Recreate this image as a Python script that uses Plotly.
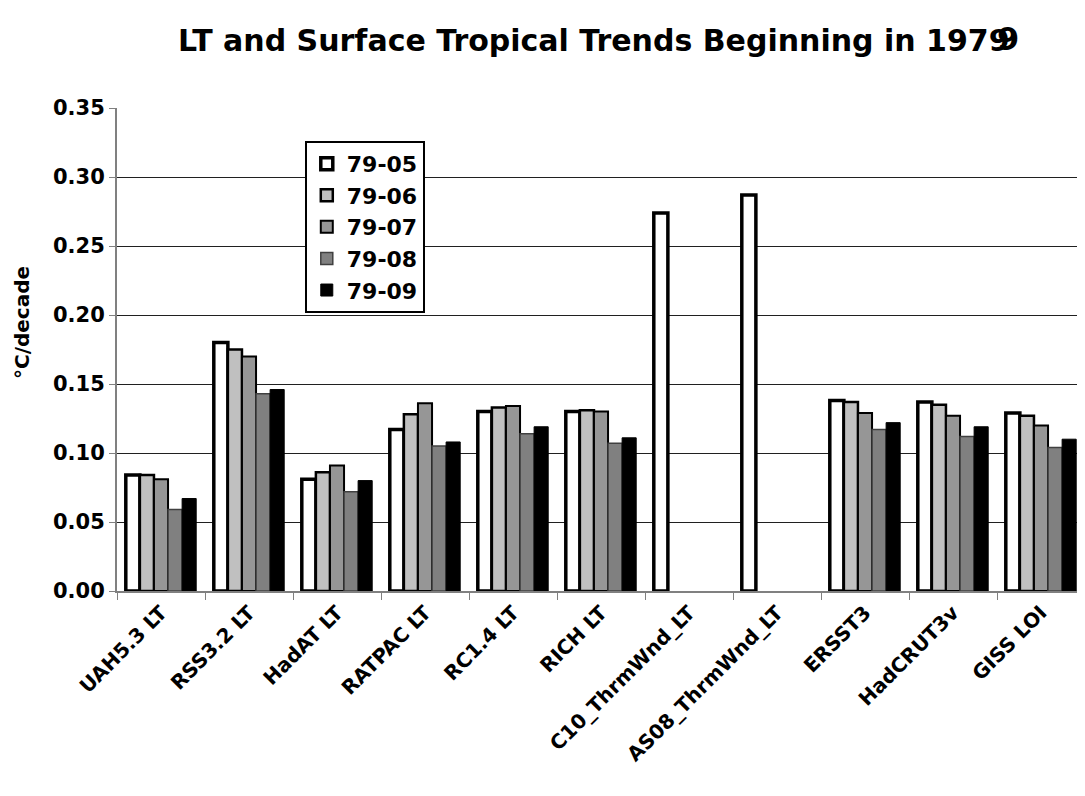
import plotly.graph_objects as go

categories = ["UAH5.3 LT", "RSS3.2 LT", "HadAT LT", "RATPAC LT", "RC1.4 LT", "RICH LT",
              "C10_ThrmWnd_LT", "AS08_ThrmWnd_LT", "ERSST3", "HadCRUT3v", "GISS LOI"]
series_names = ["79-05", "79-06", "79-07", "79-08", "79-09"]
v7905 = [0.084, 0.180, 0.081, 0.117, 0.130, 0.130, 0.274, 0.287, 0.138, 0.137, 0.129]
v7906 = [0.084, 0.175, 0.086, 0.128, 0.133, 0.131, None, None, 0.137, 0.135, 0.127]
v7907 = [0.081, 0.170, 0.091, 0.136, 0.134, 0.130, None, None, 0.129, 0.127, 0.120]
v7908 = [0.059, 0.143, 0.072, 0.105, 0.114, 0.107, None, None, 0.117, 0.112, 0.104]
v7909 = [0.067, 0.146, 0.080, 0.108, 0.119, 0.111, None, None, 0.122, 0.119, 0.110]
series_values = [v7905, v7906, v7907, v7908, v7909]
y_ticks = [0.00, 0.05, 0.10, 0.15, 0.20, 0.25, 0.30, 0.35]

fills = ["#FFFFFF", "#C0C0C0", "#969696", "#808080", "#000000"]
lines = ["#000000", "#000000", "#000000", "#404040", "#000000"]
lwidths = [3.5, 2.5, 2, 1.5, 1]

FONT = "DejaVu Sans"
fig = go.Figure()
for name, vals, fc, lc, lw in zip(series_names, series_values, fills, lines, lwidths):
    fig.add_trace(go.Bar(x=categories, y=vals, name=name, legendgroup=name,
                         marker=dict(color=fc, line=dict(color=lc, width=lw))))

fig.update_layout(
    width=1077, height=788,
    margin=dict(l=109, r=0, t=100, b=205),
    paper_bgcolor="white", plot_bgcolor="white",
    barmode="group", bargap=0.2, bargroupgap=0,
    font=dict(family=FONT, color="black", weight="bold"),
    showlegend=True,
    legend=dict(x=0.194, y=0.932, xanchor="left", yanchor="top",
                bordercolor="black", borderwidth=2, bgcolor="white",
                font=dict(size=22, family=FONT, weight="bold"),
                tracegroupgap=0, traceorder="grouped"),
    xaxis=dict(type="category", showgrid=False, showline=True, linecolor="#808080", linewidth=2,
               ticks="outside", tickson="boundaries", ticklen=7, tickcolor="#808080",
               tickangle=-45, tickfont=dict(size=20, family=FONT, weight="bold")),
    yaxis=dict(range=[0, 0.35], tickvals=y_ticks, tickformat=".2f",
               showgrid=True, gridcolor="#202020", gridwidth=1,
               showline=True, linecolor="#808080", linewidth=2,
               ticks="outside", ticklen=6, tickcolor="#808080",
               tickfont=dict(size=21, family=FONT, weight="bold")),
)

fig.add_annotation(text="°C/decade", textangle=-90,
                   xref="paper", yref="paper", x=(22 - 117) / 968, y=(591 - 323) / 483,
                   xanchor="center", yanchor="middle", showarrow=False,
                   font=dict(size=20, family=FONT, weight="bold", color="black"))
fig.add_annotation(text="LT and Surface Tropical Trends Beginning in 1979",
                   xref="paper", yref="paper", x=(1012 - 117) / 968, y=(591 - 40) / 483,
                   xanchor="right", yanchor="middle", showarrow=False,
                   font=dict(size=30, family=FONT, weight="bold", color="black"))
fig.add_annotation(text="9",
                   xref="paper", yref="paper", x=(1021 - 117) / 968, y=(591 - 39) / 483,
                   xanchor="right", yanchor="middle", showarrow=False,
                   font=dict(size=32, family=FONT, weight="bold", color="black"))

fig.write_html("out.html")
